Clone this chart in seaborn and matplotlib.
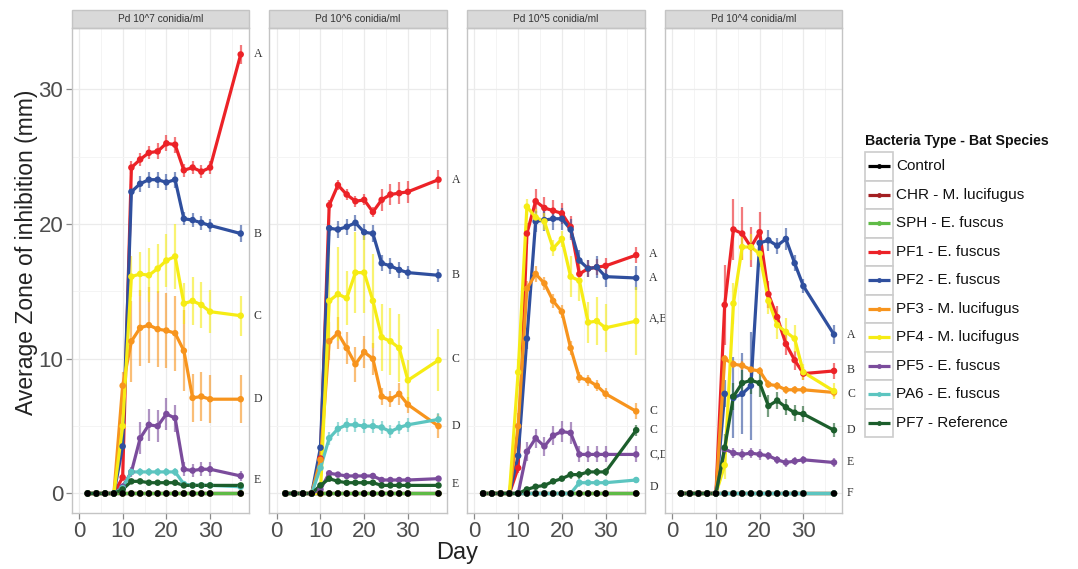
"""Zone of inhibition over time, faceted by Pd conidia concentration."""

import matplotlib
matplotlib.use("Agg")
import matplotlib.pyplot as plt
from matplotlib.patches import Rectangle
from matplotlib.ticker import MultipleLocator
import seaborn as sns
import pandas as pd

DAYS = [2, 4, 6, 8, 10, 12, 14, 16, 18, 20, 22, 24, 26, 28, 30, 37]

SERIES = [
    "Control", "CHR - M. lucifugus", "SPH - E. fuscus", "PF1 - E. fuscus",
    "PF2 - E. fuscus", "PF3 - M. lucifugus", "PF4 - M. lucifugus",
    "PF5 - E. fuscus", "PA6 - E. fuscus", "PF7 - Reference",
]
COLORS = [
    "#000000", "#a31f22", "#5fbb46", "#ec2227", "#2f4f9e", "#f7941d",
    "#f6ec14", "#7b4c9c", "#5cc5c0", "#1c5e2c",
]
PANELS = ["Pd 10^7 conidia/ml", "Pd 10^6 conidia/ml",
          "Pd 10^5 conidia/ml", "Pd 10^4 conidia/ml"]

# mean zone of inhibition (mm), one list per series, days as in DAYS
MEAN_E7 = {
    "PF1 - E. fuscus":    [0, 0, 0, 0, 1.2, 24.2, 24.8, 25.3, 25.4, 26.0, 25.9, 24.0, 24.2, 23.9, 24.2, 32.6],
    "PF2 - E. fuscus":    [0, 0, 0, 0, 3.5, 22.4, 23.0, 23.3, 23.3, 23.1, 23.3, 20.4, 20.3, 20.1, 19.9, 19.3],
    "PF3 - M. lucifugus": [0, 0, 0, 0, 8.0, 11.3, 12.3, 12.5, 12.2, 12.1, 11.9, 10.6, 7.1, 7.2, 7.0, 7.0],
    "PF4 - M. lucifugus": [0, 0, 0, 0, 5.0, 16.1, 16.3, 16.2, 16.7, 17.3, 17.6, 14.1, 14.3, 14.0, 13.5, 13.2],
    "PF5 - E. fuscus":    [0, 0, 0, 0, 0.5, 1.6, 4.1, 5.1, 5.0, 5.9, 5.6, 1.8, 1.7, 1.8, 1.8, 1.3],
    "PA6 - E. fuscus":    [0, 0, 0, 0, 0.4, 1.6, 1.6, 1.6, 1.6, 1.6, 1.6, 0.7, 0.6, 0.6, 0.6, 0.5],
    "PF7 - Reference":    [0, 0, 0, 0, 0.3, 0.9, 0.9, 0.8, 0.8, 0.8, 0.8, 0.6, 0.6, 0.6, 0.6, 0.6],
}
SE_E7 = {
    "PF1 - E. fuscus":    [0, 0, 0, 0, 0.3, 0.5, 0.5, 0.5, 0.6, 0.6, 0.6, 0.5, 0.5, 0.5, 0.5, 0.7],
    "PF2 - E. fuscus":    [0, 0, 0, 0, 0.5, 0.6, 0.6, 0.6, 0.6, 0.6, 0.6, 0.5, 0.5, 0.5, 0.5, 0.6],
    "PF3 - M. lucifugus": [0, 0, 0, 0, 1.0, 3.0, 2.8, 2.8, 2.8, 2.8, 2.8, 3.0, 1.8, 1.8, 1.8, 1.8],
    "PF4 - M. lucifugus": [0, 0, 0, 0, 1.0, 1.5, 1.6, 2.0, 1.8, 2.0, 2.4, 1.5, 1.8, 1.7, 1.6, 1.5],
    "PF5 - E. fuscus":    [0, 0, 0, 0, 0.3, 0.4, 1.2, 1.2, 1.2, 1.2, 1.0, 0.5, 0.5, 0.5, 0.5, 0.4],
    "PA6 - E. fuscus":    [0, 0, 0, 0, 0.2, 0.3, 0.3, 0.3, 0.3, 0.3, 0.3, 0.2, 0.2, 0.2, 0.2, 0.2],
    "PF7 - Reference":    [0, 0, 0, 0, 0.1, 0.2, 0.2, 0.2, 0.2, 0.2, 0.2, 0.1, 0.1, 0.1, 0.1, 0.1],
}

MEAN_E6 = {
    "PF1 - E. fuscus":    [0, 0, 0, 0, 2.6, 21.4, 22.9, 22.2, 21.7, 21.8, 20.9, 21.8, 22.2, 22.3, 22.4, 23.3],
    "PF2 - E. fuscus":    [0, 0, 0, 0, 3.4, 19.7, 19.6, 19.8, 20.1, 19.4, 19.3, 17.1, 16.9, 16.6, 16.4, 16.2],
    "PF3 - M. lucifugus": [0, 0, 0, 0, 2.5, 11.3, 11.9, 10.8, 9.6, 10.5, 10.0, 7.2, 7.0, 7.4, 6.6, 5.0],
    "PF4 - M. lucifugus": [0, 0, 0, 0, 0.0, 14.3, 14.8, 14.5, 16.4, 16.4, 14.3, 11.6, 11.3, 10.8, 8.4, 9.9],
    "PF5 - E. fuscus":    [0, 0, 0, 0, 0.3, 1.5, 1.4, 1.3, 1.3, 1.3, 1.3, 1.0, 1.0, 1.0, 1.0, 1.1],
    "PA6 - E. fuscus":    [0, 0, 0, 0, 1.9, 4.1, 4.8, 5.1, 5.1, 5.0, 5.0, 4.9, 4.6, 4.9, 5.1, 5.5],
    "PF7 - Reference":    [0, 0, 0, 0, 0.6, 1.1, 0.9, 0.8, 0.8, 0.8, 0.8, 0.6, 0.6, 0.6, 0.6, 0.6],
}
SE_E6 = {
    "PF1 - E. fuscus":    [0, 0, 0, 0, 0.3, 0.4, 0.4, 0.4, 0.4, 0.4, 0.4, 0.8, 0.8, 0.8, 0.8, 0.7],
    "PF2 - E. fuscus":    [0, 0, 0, 0, 0.3, 0.6, 0.6, 0.6, 0.6, 0.6, 0.6, 0.6, 0.6, 0.6, 0.5, 0.5],
    "PF3 - M. lucifugus": [0, 0, 0, 0, 0.4, 1.4, 1.2, 1.2, 1.3, 1.2, 1.2, 0.6, 0.6, 0.8, 0.6, 0.9],
    "PF4 - M. lucifugus": [0, 0, 0, 0, 0.0, 4.0, 3.5, 2.0, 3.0, 3.0, 3.5, 2.5, 2.5, 2.5, 1.5, 2.3],
    "PF5 - E. fuscus":    [0, 0, 0, 0, 0.1, 0.2, 0.2, 0.2, 0.2, 0.2, 0.2, 0.2, 0.2, 0.2, 0.2, 0.2],
    "PA6 - E. fuscus":    [0, 0, 0, 0, 0.3, 0.5, 0.5, 0.5, 0.5, 0.5, 0.5, 0.5, 0.5, 0.5, 0.5, 0.5],
    "PF7 - Reference":    [0, 0, 0, 0, 0.1, 0.2, 0.2, 0.2, 0.2, 0.2, 0.2, 0.1, 0.1, 0.1, 0.1, 0.1],
}

MEAN_E5 = {
    "PF1 - E. fuscus":    [0, 0, 0, 0, 1.9, 19.3, 21.7, 21.2, 21.0, 20.8, 19.8, 16.3, 16.7, 16.8, 16.9, 17.7],
    "PF2 - E. fuscus":    [0, 0, 0, 0, 2.8, 11.5, 20.2, 20.3, 20.4, 20.4, 19.6, 17.3, 16.7, 16.8, 16.1, 16.0],
    "PF3 - M. lucifugus": [0, 0, 0, 0, 5.0, 15.2, 16.3, 15.6, 14.3, 13.5, 10.8, 8.6, 8.4, 8.0, 7.4, 6.1],
    "PF4 - M. lucifugus": [0, 0, 0, 0, 9.0, 21.3, 20.5, 20.2, 18.2, 18.9, 16.1, 15.8, 12.7, 12.8, 12.3, 12.8],
    "PF5 - E. fuscus":    [0, 0, 0, 0, 0.0, 3.1, 4.1, 3.5, 4.3, 4.6, 4.5, 2.9, 2.9, 2.9, 2.9, 2.9],
    "PA6 - E. fuscus":    [0, 0, 0, 0, 0.0, 0.0, 0.0, 0.0, 0.0, 0.0, 0.0, 0.8, 0.8, 0.8, 0.8, 1.0],
    "PF7 - Reference":    [0, 0, 0, 0, 0.0, 0.3, 0.5, 0.6, 0.9, 1.1, 1.4, 1.4, 1.6, 1.6, 1.6, 4.7],
}
SE_E5 = {
    "PF1 - E. fuscus":    [0, 0, 0, 0, 0.4, 0.8, 0.9, 0.8, 0.8, 0.8, 0.8, 0.6, 0.6, 0.6, 0.6, 0.6],
    "PF2 - E. fuscus":    [0, 0, 0, 0, 0.4, 0.8, 0.8, 0.8, 0.8, 0.8, 0.8, 0.8, 0.6, 0.8, 0.8, 0.9],
    "PF3 - M. lucifugus": [0, 0, 0, 0, 1.0, 0.6, 0.6, 0.5, 0.5, 0.5, 0.5, 0.4, 0.4, 0.4, 0.4, 0.6],
    "PF4 - M. lucifugus": [0, 0, 0, 0, 1.0, 0.6, 0.6, 0.6, 0.6, 0.6, 1.5, 1.5, 1.5, 1.8, 1.8, 2.5],
    "PF5 - E. fuscus":    [0, 0, 0, 0, 0.0, 0.7, 0.7, 0.7, 0.7, 0.8, 0.8, 0.6, 0.6, 0.6, 0.6, 0.6],
    "PA6 - E. fuscus":    [0, 0, 0, 0, 0.0, 0.0, 0.0, 0.0, 0.0, 0.0, 0.0, 0.3, 0.2, 0.2, 0.2, 0.2],
    "PF7 - Reference":    [0, 0, 0, 0, 0.0, 0.1, 0.2, 0.2, 0.2, 0.2, 0.3, 0.3, 0.3, 0.3, 0.3, 0.4],
}

MEAN_E4 = {
    "PF1 - E. fuscus":    [0, 0, 0, 0, 0.0, 14.0, 19.6, 19.3, 18.3, 19.4, 14.8, 13.1, 11.1, 9.9, 8.9, 9.1],
    "PF2 - E. fuscus":    [0, 0, 0, 0, 0.0, 7.4, 7.1, 7.4, 8.0, 18.6, 18.8, 18.4, 18.9, 17.1, 15.4, 11.8],
    "PF3 - M. lucifugus": [0, 0, 0, 0, 0.0, 10.0, 9.6, 9.5, 9.2, 9.1, 8.1, 8.0, 7.7, 7.7, 7.7, 7.5],
    "PF4 - M. lucifugus": [0, 0, 0, 0, 0.0, 2.1, 14.1, 18.3, 18.3, 17.8, 14.3, 12.5, 12.0, 11.5, 9.0, 7.6],
    "PF5 - E. fuscus":    [0, 0, 0, 0, 0.0, 3.3, 3.0, 2.9, 3.0, 2.9, 2.8, 2.5, 2.3, 2.4, 2.5, 2.3],
    "PA6 - E. fuscus":    [0, 0, 0, 0, 0.0, 0.0, 0.0, 0.0, 0.0, 0.0, 0.0, 0.0, 0.0, 0.0, 0.0, 0.0],
    "PF7 - Reference":    [0, 0, 0, 0, 0.0, 3.4, 7.2, 8.2, 8.4, 8.2, 6.5, 6.9, 6.4, 6.0, 5.9, 4.7],
}
SE_E4 = {
    "PF1 - E. fuscus":    [0, 0, 0, 0, 0.0, 3.0, 2.3, 2.0, 1.5, 1.5, 1.0, 0.8, 0.8, 0.7, 0.5, 0.6],
    "PF2 - E. fuscus":    [0, 0, 0, 0, 0.0, 1.0, 3.0, 3.0, 4.0, 0.8, 0.8, 0.6, 0.8, 0.6, 0.5, 0.7],
    "PF3 - M. lucifugus": [0, 0, 0, 0, 0.0, 0.3, 0.3, 0.3, 0.3, 0.3, 0.3, 0.3, 0.3, 0.3, 0.3, 0.3],
    "PF4 - M. lucifugus": [0, 0, 0, 0, 0.0, 1.0, 1.5, 1.0, 1.0, 1.0, 1.0, 1.0, 1.0, 1.0, 0.6, 0.6],
    "PF5 - E. fuscus":    [0, 0, 0, 0, 0.0, 0.4, 0.4, 0.4, 0.4, 0.4, 0.3, 0.3, 0.3, 0.3, 0.3, 0.3],
    "PA6 - E. fuscus":    [0] * 16,
    "PF7 - Reference":    [0, 0, 0, 0, 0.0, 1.0, 1.0, 1.0, 1.0, 1.0, 0.8, 0.6, 0.6, 0.6, 0.6, 0.5],
}

# significance letters at the right of each panel
LETTERS = [
    ["A", "B", "C", "D", "E"],
    ["A", "B", "C", "D", "E"],
    ["A", "A", "A,B", "C", "C", "C,D", "D"],
    ["A", "B", "C", "D", "E", "F"],
]
LETTER_Y = [
    [32.6, 19.3, 13.2, 7.0, 1.0],
    [23.3, 16.2, 10.0, 5.0, 0.7],
    [17.8, 16.0, 13.0, 6.1, 4.7, 2.9, 0.5],
    [11.8, 9.2, 7.4, 4.7, 2.3, 0.0],
]

W, H = 1078, 569
PALETTE = dict(zip(SERIES, COLORS))

# long table
rows = []
for panel, means, ses in zip(PANELS, [MEAN_E7, MEAN_E6, MEAN_E5, MEAN_E4],
                             [SE_E7, SE_E6, SE_E5, SE_E4]):
    for s in SERIES:
        m = means.get(s, [0] * len(DAYS))
        e = ses.get(s, [0] * len(DAYS))
        for d, mv, ev in zip(DAYS, m, e):
            rows.append({"panel": panel, "series": s, "day": d, "mean": mv, "se": ev})
df = pd.DataFrame(rows)
df["series"] = pd.Categorical(df["series"], categories=SERIES, ordered=True)

sns.set_theme(style="white")
plt.rcParams["font.family"] = ["Liberation Sans", "DejaVu Sans"]

fig = plt.figure(figsize=(W / 100, H / 100), dpi=100)

grey_txt = "#4d4d4d"
border = "#c4c4c4"
px_left = [71.5, 269.3, 467.0, 664.8]
px_w = 177.5
top_px, bot_px = 27.5, 513.0
axes = []
for x0 in px_left:
    ax = fig.add_axes([x0 / W, 1 - bot_px / H, px_w / W, (bot_px - top_px) / H])
    axes.append(ax)

for i, (ax, panel) in enumerate(zip(axes, PANELS)):
    sub = df[df["panel"] == panel]
    # error bars
    eb = sub[sub["se"] > 0]
    ax.vlines(eb["day"], eb["mean"] - eb["se"], eb["mean"] + eb["se"],
              colors=[PALETTE[s] for s in eb["series"]], lw=1.6, alpha=0.6, zorder=2)
    sns.lineplot(data=sub, x="day", y="mean", hue="series", hue_order=SERIES,
                 palette=PALETTE, lw=2.3, legend=False, estimator=None,
                 ax=ax, zorder=3)
    # points: control drawn last so its black dots sit on top
    pts = pd.concat([sub[sub["series"] != "Control"], sub[sub["series"] == "Control"]])
    pts = pts.assign(series=pts["series"].astype(str))
    sns.scatterplot(data=pts, x="day", y="mean", hue="series", palette=PALETTE,
                    s=22, linewidth=0, legend=False, ax=ax, zorder=4)

    ax.set_xlim(-1.7, 38.9)
    ax.set_ylim(-1.45, 34.6)
    ax.xaxis.set_major_locator(MultipleLocator(10))
    ax.xaxis.set_minor_locator(MultipleLocator(5))
    ax.yaxis.set_major_locator(MultipleLocator(10))
    ax.yaxis.set_minor_locator(MultipleLocator(5))
    ax.grid(True, which="major", color="#ebebeb", lw=0.9)
    ax.grid(True, which="minor", color="#f4f4f4", lw=0.7)
    ax.set_axisbelow(True)
    for sp in ax.spines.values():
        sp.set_color(border)
        sp.set_linewidth(1.0)
    ax.set_xlabel("")
    ax.set_ylabel("")
    ax.tick_params(axis="x", which="major", length=4, width=0.9, color="#8a8a8a",
                   labelsize=16, labelcolor=grey_txt, pad=2, bottom=True)
    ax.tick_params(which="minor", length=0)
    if i == 0:
        ax.tick_params(axis="y", which="major", length=4, width=0.9, color="#8a8a8a",
                       labelsize=16, labelcolor=grey_txt, pad=2, left=True)
    else:
        ax.tick_params(axis="y", which="major", length=0, labelleft=False)

    # facet strip
    strip_h = 17.5 / (bot_px - top_px)
    ax.add_patch(Rectangle((0, 1), 1, strip_h, transform=ax.transAxes,
                           facecolor="#d9d9d9", edgecolor=border, lw=1.0,
                           clip_on=False))
    ax.text(0.5, 1 + strip_h / 2, panel, transform=ax.transAxes, ha="center",
            va="center", fontsize=7.3, color="#333333")

    for lab, yv in zip(LETTERS[i], LETTER_Y[i]):
        ax.text(40.0, yv, lab, fontsize=8.5, color="#333333", va="center",
                ha="left", family=["Liberation Serif", "DejaVu Serif"],
                clip_on=False)

fig.text(27 / W, 1 - 252 / H, "Average Zone of inhibition (mm)", rotation=90,
         ha="center", va="center", fontsize=16.5, color="#222222")
fig.text(457 / W, 1 - 553 / H, "Day", ha="center", va="center", fontsize=17,
         color="#222222")

# legend
lg = fig.add_axes([860 / W, 1 - 445 / H, 218 / W, 315 / H])
lg.set_xlim(0, 218)
lg.set_ylim(315, 0)
lg.axis("off")
lg.text(5, 11, "Bacteria Type - Bat Species", fontsize=10.2, fontweight="bold",
        va="center", ha="left", color="#111111")
key_h = 28.5
for j, (name, col) in enumerate(zip(SERIES, COLORS)):
    y0 = 22 + key_h * j
    lg.add_patch(Rectangle((5, y0), 27.5, key_h, facecolor="white",
                           edgecolor="#cccccc", lw=1.2))
    yc = y0 + key_h / 2
    lg.plot([7.5, 29.5], [yc, yc], color=col, lw=2.3, solid_capstyle="butt")
    lg.plot([18.5], [yc], marker="o", color=col, ms=3.5, mew=0)
    lg.text(36, yc, name, fontsize=11, va="center", ha="left", color="#111111")

fig.savefig("out.png", dpi=100)
